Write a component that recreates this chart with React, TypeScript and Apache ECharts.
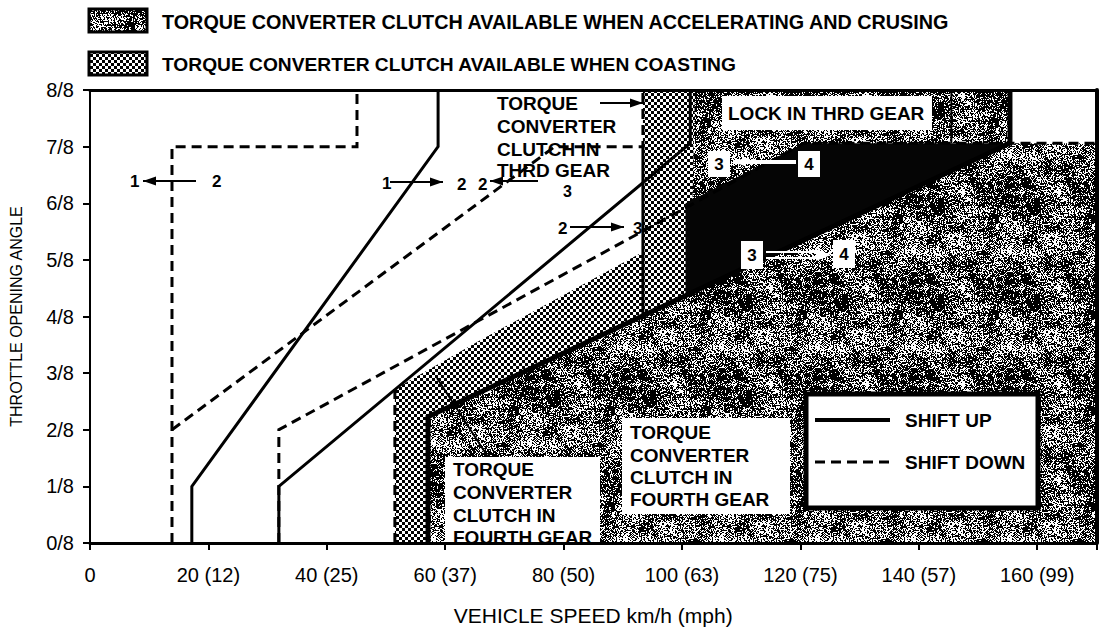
import React, { useEffect, useRef } from 'react';
import * as echarts from 'echarts';

// ---- axis ticks ----
const xTickValues = [0, 20, 40, 60, 80, 100, 120, 140, 160];
const xTickLabels = ['0', '20 (12)', '40 (25)', '60 (37)', '80 (50)', '100 (63)', '120 (75)', '140 (57)', '160 (99)'];
const yTickLabels = ['0/8', '1/8', '2/8', '3/8', '4/8', '5/8', '6/8', '7/8', '8/8'];

// ---- shift lines: [speed km/h, throttle in eighths] ----
const shiftUp12 = [[17.2, 0], [17.2, 1], [58.8, 7], [58.8, 8]];
const shiftDown12 = [[13.85, 0], [13.85, 7], [45.1, 7], [45.1, 8]];
const shiftUp23 = [[31.9, 0], [31.9, 1], [101.4, 7.06], [101.4, 8]];
const shiftDown23 = [[13.85, 2], [78.5, 7], [93.4, 7], [93.4, 8]];
const shiftUp34 = [[57.1, 0], [57.1, 2.23], [155.4, 7.06], [155.4, 8]];
const shiftDown34 = [[31.9, 0], [31.9, 2], [120.6, 7.06], [170, 7.06]];
const coastEdgeLeft = [[51.5, 0], [51.5, 2.72]];
const coastEdgeMid = [[93.4, 7], [93.4, 4.0]];
const lockEdge = [[145.5, 7.06], [145.5, 8]];

// ---- shaded regions ----
const coastRegion = [[51.5, 0], [51.5, 2.72], [65.9, 3.58], [93.4, 5.14], [93.4, 8], [102.2, 8], [101.4, 4.41], [57.1, 2.23], [57.1, 0]];
const driveRegion = [[57.1, 0], [57.1, 2.23], [101.4, 4.41], [101.4, 8], [155.4, 8], [155.4, 7.06], [170, 7.06], [170, 0]];
const lockRegion = [[100.6, 6.0], [120.6, 7.06], [155.4, 7.06], [100.6, 4.37]];

const FONT = '"Liberation Sans", Arial, sans-serif';

function makeChecker(): HTMLCanvasElement {
  const c = document.createElement('canvas');
  c.width = 6; c.height = 6;
  const g = c.getContext('2d')!;
  g.fillStyle = '#fff'; g.fillRect(0, 0, 6, 6);
  g.fillStyle = '#000'; g.fillRect(0, 0, 3, 3); g.fillRect(3, 3, 3, 3);
  return c;
}

// deterministic halftone-like grain texture (styling only)
function makeGrain(): HTMLCanvasElement {
  const N = 96;
  const c = document.createElement('canvas');
  c.width = N; c.height = N;
  const g = c.getContext('2d')!;
  const img = g.createImageData(N, N);
  const h = (x: number, y: number) => {
    const s = Math.sin(x * 127.1 + y * 311.7) * 43758.5453;
    return s - Math.floor(s);
  };
  const sm = (t: number) => t * t * (3 - 2 * t);
  const noise = (x: number, y: number, cell: number) => {
    const n = N / cell;
    const gx = x / cell, gy = y / cell;
    const ix = Math.floor(gx), iy = Math.floor(gy);
    const fx = sm(gx - ix), fy = sm(gy - iy);
    const a = h(ix % n, iy % n), b = h((ix + 1) % n, iy % n);
    const c2 = h(ix % n, (iy + 1) % n), d = h((ix + 1) % n, (iy + 1) % n);
    return (a * (1 - fx) + b * fx) * (1 - fy) + (c2 * (1 - fx) + d * fx) * fy;
  };
  for (let y = 0; y < N; y++) {
    for (let x = 0; x < N; x++) {
      const field = 0.6 * noise(x, y, 12) + 0.4 * noise(x, y, 6);
      const density = 0.18 + 0.85 * field;
      const t = h(x + 1000, y + 2000);
      const v = t < density ? 0 : 255;
      const i = (y * N + x) * 4;
      img.data[i] = v; img.data[i + 1] = v; img.data[i + 2] = v; img.data[i + 3] = 255;
    }
  }
  g.putImageData(img, 0, 0);
  return c;
}

function polySeries(name: string, pts: number[][], fill: any, z = 1) {
  return {
    type: 'custom', name, data: pts, z, silent: true, clip: true,
    encode: { x: 0, y: 1 },
    renderItem: (params: any, api: any) => {
      if (params.dataIndex !== 0) return;
      return { type: 'polygon', shape: { points: pts.map((p) => api.coord(p)) }, style: { fill, stroke: 'none' } };
    },
  };
}

function lineSeries(name: string, data: number[][], dashed: boolean, width = 3, z = 3) {
  return {
    type: 'line', name, data, symbol: 'none', z, silent: true,
    lineStyle: { color: '#000', width, type: dashed ? [10, 6] : 'solid', cap: 'butt', join: 'miter' },
  };
}

function txt(x: number, y: number, text: string, size = 19, weight = 'bold', fill = '#000', align = 'left') {
  return {
    type: 'text', x, y, z: 20,
    style: { text, fill, font: `${weight} ${size}px ${FONT}`, align, verticalAlign: 'middle' },
  };
}

function arrow(x1: number, x2: number, y: number, head: 'left' | 'right', color = '#000', w = 2) {
  const hx = head === 'left' ? x1 : x2;
  const d = head === 'left' ? 1 : -1;
  return [
    { type: 'line', z: 20, shape: { x1, y1: y, x2, y2: y }, style: { stroke: color, lineWidth: w } },
    { type: 'polygon', z: 20, shape: { points: [[hx, y], [hx + d * 13, y - 4.5], [hx + d * 13, y + 4.5]] }, style: { fill: color } },
  ];
}

function box(x: number, y: number, w: number, h: number, stroke = 'none', lw = 0) {
  return { type: 'rect', z: 15, shape: { x, y, width: w, height: h }, style: { fill: '#fff', stroke, lineWidth: lw } };
}

export default function App() {
  const ref = useRef<HTMLDivElement>(null);
  useEffect(() => {
    if (!ref.current) return;
    const chart = echarts.init(ref.current, undefined, { renderer: 'svg' });
    const checker = { image: makeChecker(), repeat: 'repeat' };
    const grain = { image: makeGrain(), repeat: 'repeat' };

    const graphics: any[] = [
      // legend
      { type: 'rect', z: 20, shape: { x: 89, y: 9, width: 58, height: 23 }, style: { fill: grain, stroke: '#000', lineWidth: 3 } },
      txt(162, 22, 'TORQUE CONVERTER CLUTCH AVAILABLE WHEN ACCELERATING AND CRUSING', 19.8),
      { type: 'rect', z: 20, shape: { x: 89, y: 52, width: 58, height: 23 }, style: { fill: checker, stroke: '#000', lineWidth: 3 } },
      txt(162, 64, 'TORQUE CONVERTER CLUTCH AVAILABLE WHEN COASTING', 19.2),
      // shift arrows
      txt(130, 181, '1', 17), ...arrow(143, 196, 181, 'left'), txt(212, 181, '2', 17),
      txt(382, 183, '1', 17), ...arrow(390, 443, 182, 'right'), txt(457, 184, '2', 17),
      txt(478, 184, '2', 17), ...arrow(490, 538, 181, 'left'), txt(563, 191, '3', 16),
      txt(558, 228, '2', 17), ...arrow(570, 624, 227, 'right'), txt(633, 228, '3', 17),
      // third gear label
      txt(497, 103, 'TORQUE'), txt(497, 126, 'CONVERTER'), txt(497, 149, 'CLUTCH IN'), txt(497, 170, 'THRD GEAR'),
      ...arrow(600, 643, 103, 'right'),
      // lock in third gear
      box(722, 96, 210, 34), txt(728, 113, 'LOCK IN THRD GEAR'),
      // 3 <- 4
      box(708, 151, 22, 26), txt(719, 164, '3', 17, 'bold', '#000', 'center'),
      box(798, 151, 22, 26), txt(809, 164, '4', 17, 'bold', '#000', 'center'),
      ...arrow(733, 796, 162, 'left', '#fff', 4),
      // 3 -> 4
      box(741, 241, 22, 28), txt(752, 255, '3', 17, 'bold', '#000', 'center'),
      box(833, 240, 22, 28), txt(844, 254, '4', 17, 'bold', '#000', 'center'),
      { type: 'line', z: 20, shape: { x1: 766, y1: 252, x2: 822, y2: 252 }, style: { stroke: '#fff', lineWidth: 2 } },
      { type: 'line', z: 20, shape: { x1: 766, y1: 258, x2: 822, y2: 258 }, style: { stroke: '#fff', lineWidth: 2 } },
      { type: 'polygon', z: 20, shape: { points: [[831, 255], [816, 249], [816, 261]] }, style: { fill: '#fff' } },
      // fourth gear labels
      { type: 'line', z: 14, shape: { x1: 488, y1: 457, x2: 437, y2: 378 }, style: { stroke: '#000', lineWidth: 2 } },
      box(445, 457, 155, 85),
      txt(453, 469, 'TORQUE'), txt(453, 492, 'CONVERTER'), txt(453, 515, 'CLUTCH IN'), txt(453, 537, 'FOURTH GEAR'),
      box(622, 418, 168, 96),
      txt(630, 432, 'TORQUE'), txt(630, 455, 'CONVERTER'), txt(630, 477, 'CLUTCH IN'), txt(630, 499, 'FOURTH GEAR'),
      // shift legend
      box(806, 394, 232, 114, '#000', 5),
      { type: 'line', z: 20, shape: { x1: 815, y1: 420, x2: 890, y2: 420 }, style: { stroke: '#000', lineWidth: 4 } },
      { type: 'line', z: 20, shape: { x1: 815, y1: 462, x2: 890, y2: 462 }, style: { stroke: '#000', lineWidth: 3, lineDash: [10, 6] } },
      txt(905, 420, 'SHIFT UP'), txt(905, 462, 'SHIFT DOWN'),
    ];

    const axisCommon = { min: 0, type: 'value', splitLine: { show: false }, z: 10 };
    chart.setOption({
      animation: false,
      backgroundColor: '#fff',
      grid: { left: 90, top: 90, width: 1006.4, height: 453 },
      xAxis: [
        {
          ...axisCommon, max: 170, interval: 20, position: 'bottom',
          axisLine: { show: true, onZero: false, lineStyle: { color: '#000', width: 3 } },
          axisTick: { show: true, length: 7, lineStyle: { color: '#000', width: 2 } },
          axisLabel: {
            color: '#000', fontSize: 20, fontFamily: FONT, margin: 22,
            formatter: (v: number) => { const i = xTickValues.indexOf(v); return i >= 0 ? xTickLabels[i] : ''; },
          },
          name: 'VEHICLE SPEED km/h (mph)', nameLocation: 'middle', nameGap: 62,
          nameTextStyle: { color: '#000', fontSize: 21, fontFamily: FONT },
        },
        {
          ...axisCommon, max: 170, position: 'top',
          axisLine: { show: true, onZero: false, lineStyle: { color: '#000', width: 3 } },
          axisTick: { show: false }, axisLabel: { show: false },
        },
      ],
      yAxis: [
        {
          ...axisCommon, max: 8, interval: 1, position: 'left',
          axisLine: { show: true, onZero: false, lineStyle: { color: '#000', width: 2 } },
          axisTick: { show: true, length: 7, lineStyle: { color: '#000', width: 2 } },
          axisLabel: { color: '#000', fontSize: 20, fontFamily: FONT, margin: 16, formatter: (v: number) => yTickLabels[v] ?? '' },
          name: 'THROTTLE OPENING ANGLE', nameLocation: 'middle', nameGap: 66,
          nameTextStyle: { color: '#000', fontSize: 16, fontFamily: FONT },
        },
        {
          ...axisCommon, max: 8, position: 'right',
          axisLine: { show: true, onZero: false, lineStyle: { color: '#000', width: 4 } },
          axisTick: { show: false }, axisLabel: { show: false },
        },
      ],
      series: [
        polySeries('drive', driveRegion, grain, 1),
        polySeries('coast', coastRegion, checker, 1),
        polySeries('lock', lockRegion, '#050505', 2),
        lineSeries('edgeLeft', coastEdgeLeft, true, 3),
        lineSeries('edgeMid', coastEdgeMid, false, 3),
        lineSeries('lockEdge', lockEdge, false, 2),
        lineSeries('down12', shiftDown12, true),
        lineSeries('down23', shiftDown23, true),
        lineSeries('down34', shiftDown34, true),
        lineSeries('up12', shiftUp12, false, 3, 4),
        lineSeries('up23', shiftUp23, false, 3, 4),
        lineSeries('up34', shiftUp34, false, 5, 4),
      ],
      graphic: graphics,
    });
    return () => chart.dispose();
  }, []);
  return <div ref={ref} style={{ position: 'fixed', left: 0, top: 0, width: 1120, height: 634 }} />;
}
